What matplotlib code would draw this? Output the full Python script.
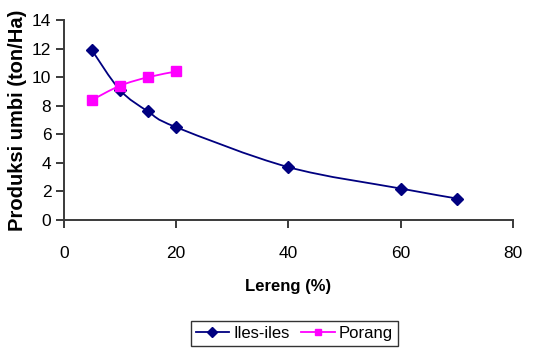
import numpy as np
import matplotlib
matplotlib.use('Agg')
import matplotlib.pyplot as plt
from matplotlib.path import Path
from matplotlib.patches import PathPatch
from matplotlib.lines import Line2D

# slope (%) vs tuber yield (ton/Ha)
lereng_iles = [5, 10, 15, 20, 40, 60, 70]
produksi_iles = [11.9, 9.1, 7.6, 6.5, 3.7, 2.2, 1.5]
lereng_porang = [5, 10, 15, 20]
produksi_porang = [8.4, 9.4, 10.0, 10.4]

x_ticks = [0, 20, 40, 60, 80]
y_ticks = [0, 2, 4, 6, 8, 10, 12, 14]

plt.rcParams['font.family'] = ['Liberation Sans', 'DejaVu Sans']


def smooth_path(x, y):
    """Bezier path through the points, like a spreadsheet 'smoothed line'."""
    pts = np.column_stack([x, y]).astype(float)
    verts = [pts[0]]
    codes = [Path.MOVETO]
    n = len(pts)
    for i in range(n - 1):
        p0 = pts[i - 1] if i > 0 else pts[i]
        p1 = pts[i]
        p2 = pts[i + 1]
        p3 = pts[i + 2] if i + 2 < n else pts[i + 1]
        c1 = p1 + (p2 - p0) / 6.0
        c2 = p2 - (p3 - p1) / 6.0
        verts += [c1, c2, p2]
        codes += [Path.CURVE4] * 3
    return Path(verts, codes)


fig = plt.figure(figsize=(5.36, 3.53), dpi=100)
ax = fig.add_axes([0.119, 0.377, 0.838, 0.566])

series = [
    (lereng_iles, produksi_iles, '#000080', 'D', 6.5, 'Iles-iles'),
    (lereng_porang, produksi_porang, '#FF00FF', 's', 6.5, 'Porang'),
]
handles = []
for xs, ys, col, mk, ms, lab in series:
    ax.add_patch(PathPatch(smooth_path(xs, ys), facecolor='none',
                           edgecolor=col, lw=1.3, zorder=2))
    ax.plot(xs, ys, linestyle='none', marker=mk, ms=ms, color=col, zorder=3)
    handles.append(Line2D([], [], color=col, lw=1.3, marker=mk,
                          ms=ms * 0.75, label=lab))

ax.set_xlim(0, 80)
ax.set_ylim(0, 14)
ax.set_xticks(x_ticks)
ax.set_yticks(y_ticks)

for side in ('top', 'right'):
    ax.spines[side].set_visible(False)
for side in ('left', 'bottom'):
    ax.spines[side].set_color('#3a3a3a')
    ax.spines[side].set_linewidth(1.4)
ax.tick_params(axis='both', direction='out', length=6, width=1.4,
               color='#3a3a3a', labelsize=12.5, pad=3)
ax.tick_params(axis='x', pad=13)

ax.set_xlabel('Lereng (%)', fontsize=12, fontweight='bold', labelpad=13)
ax.set_ylabel('Produksi umbi (ton/Ha)', fontsize=14.5, fontweight='bold')
ax.yaxis.set_label_coords(-0.082, 0.5)

leg = fig.legend(handles=handles, loc='upper center',
                 bbox_to_anchor=(0.549, 0.091), borderaxespad=0, ncol=2,
                 fontsize=12, frameon=True, fancybox=False,
                 edgecolor='black', handlelength=2.0, handletextpad=0.25,
                 columnspacing=0.7, borderpad=0.3)
leg.get_frame().set_linewidth(1.0)

fig.savefig('out.png', dpi=100)
